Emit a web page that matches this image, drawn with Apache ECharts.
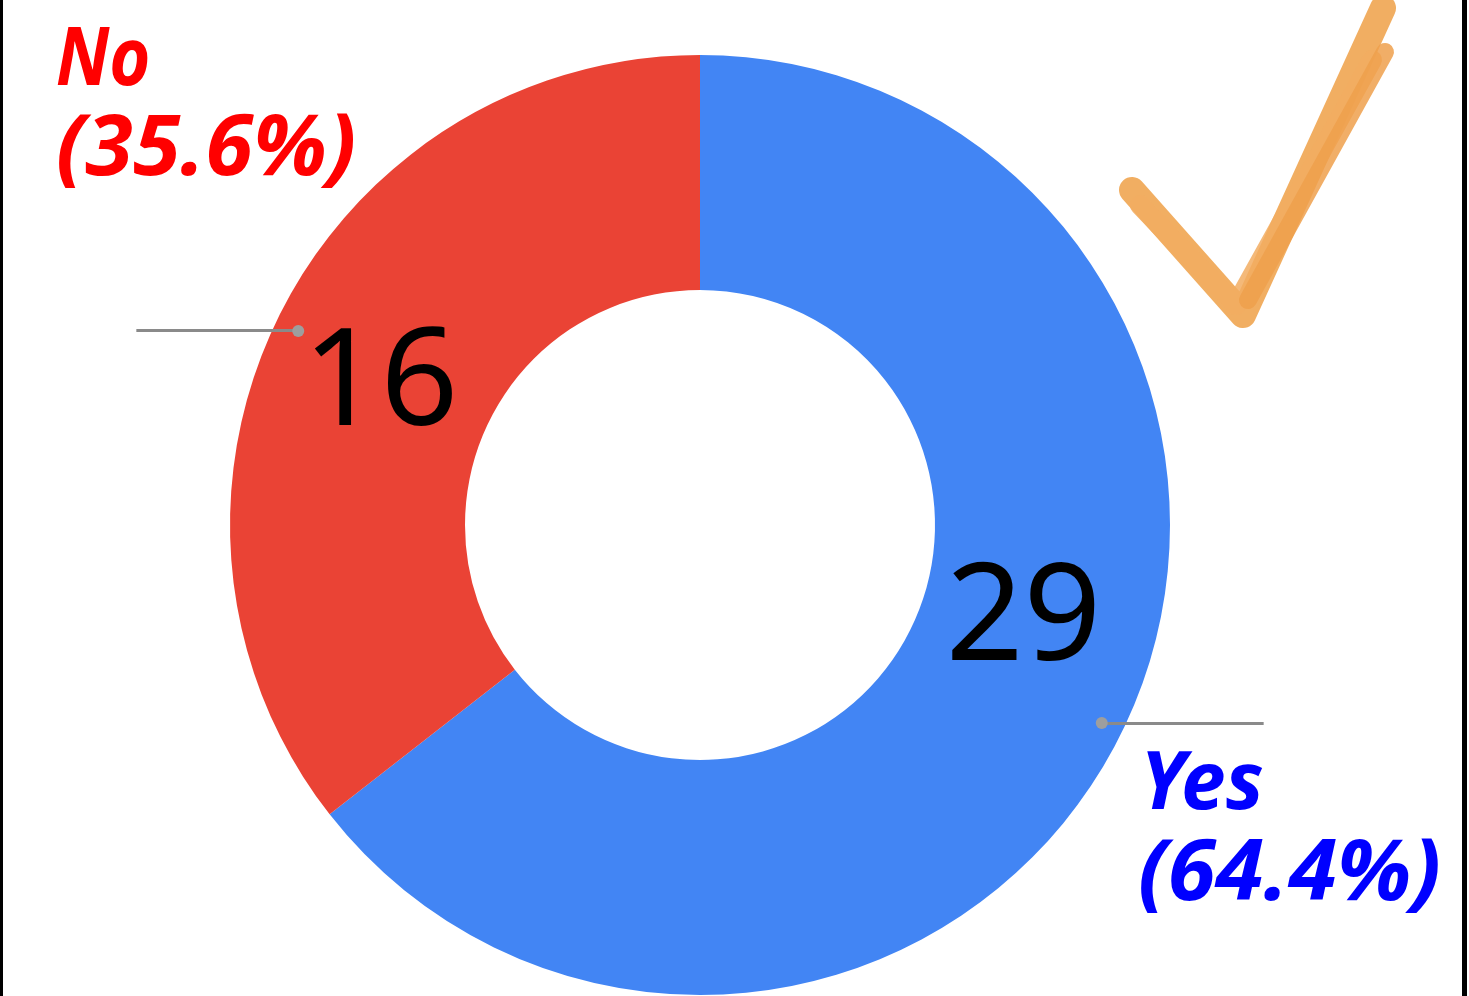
<!DOCTYPE html>
<html>
<head>
<meta charset="utf-8">
<script src="https://cdn.jsdelivr.net/npm/echarts@6/dist/echarts.min.js"></script>
<style>
  html, body { margin: 0; padding: 0; background: #fff; }
  #chart { width: 1469px; height: 996px; }
</style>
</head>
<body>
<div id="chart"></div>
<script>
// 数据
const categories = ['Yes', 'No'];
const counts = [29, 16];
const sliceColors = ['#4285f4', '#ea4335'];
const labelColors = ['#0000ff', '#ff0000'];

const total = counts.reduce((a, b) => a + b, 0);
const pct = counts.map(v => (v / total * 100).toFixed(1) + '%');

const chart = echarts.init(document.getElementById('chart'));

const CX = 700, CY = 525;
const R_IN = 235, R_OUT = 470, R_DOT = 447;
const START = 90;

// 引导线起点（圆点），按扇区中间角度计算
let cum = 0;
const dots = counts.map(v => {
  const mid = (START - (cum + v / 2) / total * 360) * Math.PI / 180;
  cum += v;
  return {
    type: 'circle',
    shape: { cx: CX + R_DOT * Math.cos(mid), cy: CY - R_DOT * Math.sin(mid) + 2, r: 6 },
    style: { fill: '#9e9e9e' },
    z: 100
  };
});

const handFont = 'italic bold 80px "Noto Sans", sans-serif';

chart.setOption({
  animation: false,
  backgroundColor: '#fff',
  series: [
    {
      type: 'pie',
      center: [CX, CY],
      radius: [R_IN, R_OUT],
      startAngle: START,
      clockwise: true,
      silent: true,
      itemStyle: { borderWidth: 0 },
      label: {
        show: true,
        position: 'inside',
        formatter: '{c}',
        color: '#000',
        fontSize: 136,
        fontFamily: '"Noto Sans", sans-serif',
        fontWeight: 'normal'
      },
      labelLine: { show: false },
      data: categories.map((name, i) => ({
        name: name,
        value: counts[i],
        itemStyle: { color: sliceColors[i] },
        label: { offset: i === 0 ? [4, -60] : [0, 17] }
      }))
    },
    {
      // 透明覆盖层，只用来画引导线
      type: 'pie',
      center: [CX, CY + 2],
      radius: [0, R_DOT],
      startAngle: START,
      clockwise: true,
      silent: true,
      z: 5,
      itemStyle: { color: 'rgba(0,0,0,0)', borderWidth: 0 },
      label: {
        show: true,
        position: 'outside',
        formatter: ' ',
        color: 'rgba(0,0,0,0)',
        fontSize: 10
      },
      labelLine: {
        show: true,
        length: 1,
        length2: 161,
        lineStyle: { color: '#8a8a8a', width: 3 }
      },
      data: categories.map((name, i) => ({ name: name, value: counts[i] }))
    }
  ],
  graphic: [
    // 边框
    { type: 'rect', shape: { x: 0, y: 0, width: 3, height: 996 }, style: { fill: '#000' } },
    { type: 'rect', shape: { x: 1462, y: 0, width: 5, height: 996 }, style: { fill: '#000' } },
    // 手写标签
    {
      type: 'text', x: 56, y: 62, z: 100, scaleX: 0.88,
      style: { text: categories[1], font: handFont, fill: labelColors[1], verticalAlign: 'middle' }
    },
    {
      type: 'text', x: 56, y: 151, z: 100, scaleX: 1.08, scaleY: 1.06,
      style: { text: '(' + pct[1] + ')', font: handFont, fill: labelColors[1], verticalAlign: 'middle' }
    },
    {
      type: 'text', x: 1140, y: 786, z: 100,
      style: { text: categories[0], font: handFont, fill: labelColors[0], verticalAlign: 'middle' }
    },
    {
      type: 'text', x: 1138, y: 876, z: 100, scaleX: 1.09, scaleY: 1.06,
      style: { text: '(' + pct[0] + ')', font: handFont, fill: labelColors[0], verticalAlign: 'middle' }
    },
    // 对勾
    {
      type: 'polyline', z: 50,
      shape: { points: [[1132, 190], [1243, 315], [1383, 8]] },
      style: { stroke: '#f0a551', lineWidth: 26, lineCap: 'round', lineJoin: 'round', fill: null, opacity: 0.9 }
    },
    {
      type: 'polyline', z: 50,
      shape: { points: [[1140, 205], [1236, 305], [1372, 60]] },
      style: { stroke: '#f2ad62', lineWidth: 20, lineCap: 'round', lineJoin: 'round', fill: null, opacity: 0.85 }
    },
    {
      type: 'polyline', z: 50,
      shape: { points: [[1248, 300], [1385, 52]] },
      style: { stroke: '#eea04c', lineWidth: 18, lineCap: 'round', fill: null, opacity: 0.85 }
    }
  ].concat(dots)
});
</script>
</body>
</html>
